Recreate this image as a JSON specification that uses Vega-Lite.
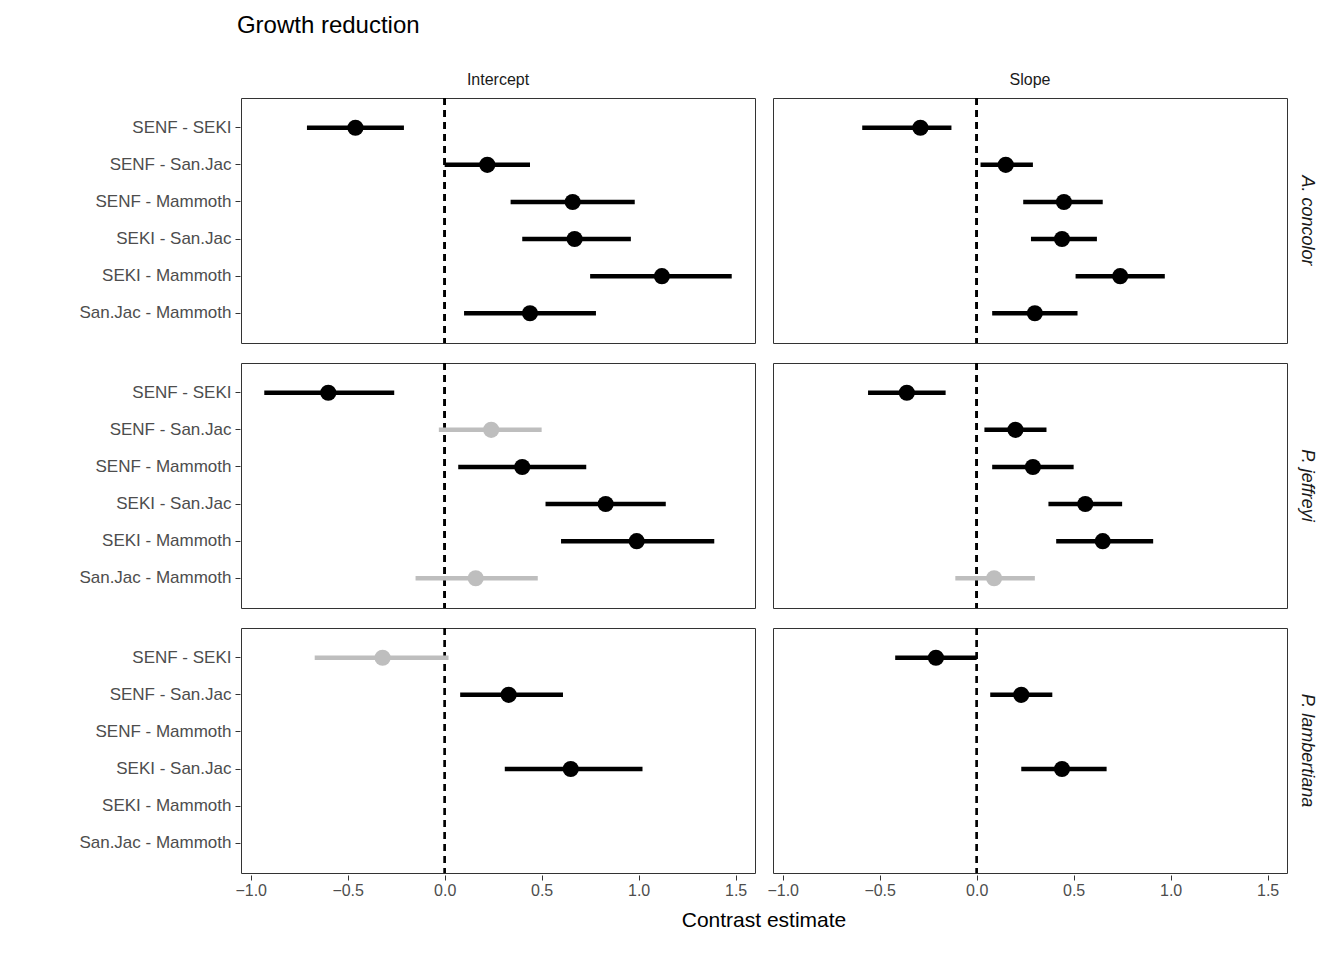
{
  "$schema": "https://vega.github.io/schema/vega-lite/v6.json",
  "padding": {"left": 78, "top": 14, "right": 5, "bottom": 5},
  "title": {"text": "Growth reduction", "anchor": "start", "dx": 158, "fontSize": 24, "font": "Liberation Sans", "fontWeight": "normal", "color": "black", "offset": 34},
  "data": {"values": [
    {"sp": "A. concolor", "par": "Intercept", "c": "SENF - SEKI", "est": -0.46, "lo": -0.71, "hi": -0.21, "sig": "yes"},
    {"sp": "A. concolor", "par": "Intercept", "c": "SENF - San.Jac", "est": 0.22, "lo": 0.0, "hi": 0.44, "sig": "yes"},
    {"sp": "A. concolor", "par": "Intercept", "c": "SENF - Mammoth", "est": 0.66, "lo": 0.34, "hi": 0.98, "sig": "yes"},
    {"sp": "A. concolor", "par": "Intercept", "c": "SEKI - San.Jac", "est": 0.67, "lo": 0.40, "hi": 0.96, "sig": "yes"},
    {"sp": "A. concolor", "par": "Intercept", "c": "SEKI - Mammoth", "est": 1.12, "lo": 0.75, "hi": 1.48, "sig": "yes"},
    {"sp": "A. concolor", "par": "Intercept", "c": "San.Jac - Mammoth", "est": 0.44, "lo": 0.10, "hi": 0.78, "sig": "yes"},
    {"sp": "A. concolor", "par": "Slope", "c": "SENF - SEKI", "est": -0.29, "lo": -0.59, "hi": -0.13, "sig": "yes"},
    {"sp": "A. concolor", "par": "Slope", "c": "SENF - San.Jac", "est": 0.15, "lo": 0.02, "hi": 0.29, "sig": "yes"},
    {"sp": "A. concolor", "par": "Slope", "c": "SENF - Mammoth", "est": 0.45, "lo": 0.24, "hi": 0.65, "sig": "yes"},
    {"sp": "A. concolor", "par": "Slope", "c": "SEKI - San.Jac", "est": 0.44, "lo": 0.28, "hi": 0.62, "sig": "yes"},
    {"sp": "A. concolor", "par": "Slope", "c": "SEKI - Mammoth", "est": 0.74, "lo": 0.51, "hi": 0.97, "sig": "yes"},
    {"sp": "A. concolor", "par": "Slope", "c": "San.Jac - Mammoth", "est": 0.30, "lo": 0.08, "hi": 0.52, "sig": "yes"},
    {"sp": "P. jeffreyi", "par": "Intercept", "c": "SENF - SEKI", "est": -0.60, "lo": -0.93, "hi": -0.26, "sig": "yes"},
    {"sp": "P. jeffreyi", "par": "Intercept", "c": "SENF - San.Jac", "est": 0.24, "lo": -0.03, "hi": 0.50, "sig": "no"},
    {"sp": "P. jeffreyi", "par": "Intercept", "c": "SENF - Mammoth", "est": 0.40, "lo": 0.07, "hi": 0.73, "sig": "yes"},
    {"sp": "P. jeffreyi", "par": "Intercept", "c": "SEKI - San.Jac", "est": 0.83, "lo": 0.52, "hi": 1.14, "sig": "yes"},
    {"sp": "P. jeffreyi", "par": "Intercept", "c": "SEKI - Mammoth", "est": 0.99, "lo": 0.60, "hi": 1.39, "sig": "yes"},
    {"sp": "P. jeffreyi", "par": "Intercept", "c": "San.Jac - Mammoth", "est": 0.16, "lo": -0.15, "hi": 0.48, "sig": "no"},
    {"sp": "P. jeffreyi", "par": "Slope", "c": "SENF - SEKI", "est": -0.36, "lo": -0.56, "hi": -0.16, "sig": "yes"},
    {"sp": "P. jeffreyi", "par": "Slope", "c": "SENF - San.Jac", "est": 0.20, "lo": 0.04, "hi": 0.36, "sig": "yes"},
    {"sp": "P. jeffreyi", "par": "Slope", "c": "SENF - Mammoth", "est": 0.29, "lo": 0.08, "hi": 0.50, "sig": "yes"},
    {"sp": "P. jeffreyi", "par": "Slope", "c": "SEKI - San.Jac", "est": 0.56, "lo": 0.37, "hi": 0.75, "sig": "yes"},
    {"sp": "P. jeffreyi", "par": "Slope", "c": "SEKI - Mammoth", "est": 0.65, "lo": 0.41, "hi": 0.91, "sig": "yes"},
    {"sp": "P. jeffreyi", "par": "Slope", "c": "San.Jac - Mammoth", "est": 0.09, "lo": -0.11, "hi": 0.30, "sig": "no"},
    {"sp": "P. lambertiana", "par": "Intercept", "c": "SENF - SEKI", "est": -0.32, "lo": -0.67, "hi": 0.02, "sig": "no"},
    {"sp": "P. lambertiana", "par": "Intercept", "c": "SENF - San.Jac", "est": 0.33, "lo": 0.08, "hi": 0.61, "sig": "yes"},
    {"sp": "P. lambertiana", "par": "Intercept", "c": "SEKI - San.Jac", "est": 0.65, "lo": 0.31, "hi": 1.02, "sig": "yes"},
    {"sp": "P. lambertiana", "par": "Slope", "c": "SENF - SEKI", "est": -0.21, "lo": -0.42, "hi": 0.0, "sig": "yes"},
    {"sp": "P. lambertiana", "par": "Slope", "c": "SENF - San.Jac", "est": 0.23, "lo": 0.07, "hi": 0.39, "sig": "yes"},
    {"sp": "P. lambertiana", "par": "Slope", "c": "SEKI - San.Jac", "est": 0.44, "lo": 0.23, "hi": 0.67, "sig": "yes"}
  ]},
  "facet": {
    "row": {"field": "sp", "type": "nominal", "title": null,
      "header": {"labelOrient": "right", "labelAngle": 90, "labelFontStyle": "italic", "labelFontSize": 18, "labelFont": "Liberation Sans", "labelColor": "#1a1a1a", "labelPadding": 10}},
    "column": {"field": "par", "type": "nominal", "title": "Contrast estimate",
      "header": {"labelOrient": "top", "titleOrient": "bottom", "labelFontSize": 16, "labelFont": "Liberation Sans", "labelColor": "#1a1a1a", "labelPadding": 8,
        "titleFontSize": 21, "titleFont": "Liberation Sans", "titleFontWeight": "normal", "titleColor": "black", "titlePadding": 2}}
  },
  "spacing": {"row": 16, "column": 16},
  "spec": {
    "width": 514,
    "height": 245,
    "encoding": {
      "y": {"field": "c", "type": "nominal", "title": null,
        "scale": {"domain": ["SENF - SEKI", "SENF - San.Jac", "SENF - Mammoth", "SEKI - San.Jac", "SEKI - Mammoth", "San.Jac - Mammoth"], "paddingOuter": 0.3},
        "axis": {"labelFontSize": 17, "labelFont": "Liberation Sans", "labelColor": "#4d4d4d", "domain": false, "tickColor": "#333", "labelPadding": 4}}
    },
    "layer": [
      {
        "mark": {"type": "rule", "strokeDash": [7, 5], "strokeWidth": 2, "color": "black"},
        "encoding": {"x": {"datum": 0, "type": "quantitative"}, "y": null}
      },
      {
        "mark": {"type": "rule", "strokeWidth": 4.5},
        "encoding": {
          "x": {"field": "lo", "type": "quantitative", "title": null,
            "scale": {"domain": [-1.05, 1.6], "nice": false, "zero": false},
            "axis": {"values": [-1, -0.5, 0, 0.5, 1, 1.5], "labelExpr": "format(datum.value, '.1f')", "grid": false, "domain": false, "labelFontSize": 16, "labelFont": "Liberation Sans", "labelColor": "#4d4d4d", "tickColor": "#333"}},
          "x2": {"field": "hi"},
          "color": {"field": "sig", "type": "nominal", "scale": {"domain": ["yes", "no"], "range": ["black", "#BEBEBE"]}, "legend": null}
        }
      },
      {
        "mark": {"type": "circle", "size": 260, "opacity": 1},
        "encoding": {
          "x": {"field": "est", "type": "quantitative"},
          "color": {"field": "sig", "type": "nominal", "legend": null}
        }
      }
    ]
  },
  "config": {
    "view": {"stroke": "#333", "strokeWidth": 1},
    "axis": {"grid": false}
  }
}
